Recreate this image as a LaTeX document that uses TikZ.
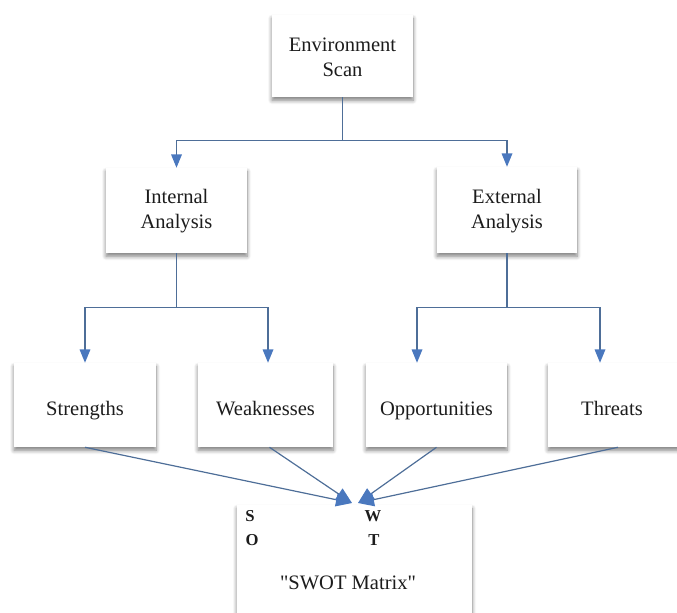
\documentclass[tikz,border=0pt]{standalone}
\usepackage{fontspec}
\IfFontExistsTF{LiberationSerif-Regular.ttf}{%
  \setmainfont{LiberationSerif}[Extension=.ttf, UprightFont=*-Regular,
    BoldFont=*-Bold, ItalicFont=*-Italic, BoldItalicFont=*-BoldItalic]%
}{%
  \setmainfont{Liberation Serif}%
}
\usetikzlibrary{arrows.meta,shadows.blur,calc}
\definecolor{linkblue}{HTML}{4E6E98}
\definecolor{tipblue}{HTML}{4A78BE}
\definecolor{ink}{HTML}{1C1C1C}
\tikzset{
  card/.style={draw=none, fill=white, inner sep=0pt,
    blur shadow={shadow xshift=0pt, shadow yshift=-2.5pt,
      shadow blur radius=3pt, shadow blur steps=6, shadow opacity=50}},
  lbl/.style={text=ink, font=\rmfamily\fontsize{15.4}{18.8}\selectfont, align=center, inner sep=0pt},
  letter/.style={text=ink, font=\rmfamily\fontsize{12.5}{15}\selectfont\bfseries, inner sep=0pt},
  link/.style={draw=linkblue, line width=0.9pt},
  flow/.style={link, -{Triangle[length=10pt,width=8pt,fill=tipblue,color=tipblue]}},
  bigflow/.style={link, -{Triangle[length=12pt,width=10pt,fill=tipblue,color=tipblue]}},
}
\begin{document}
\begin{tikzpicture}[x=0.75pt, y=-0.75pt]
  \useasboundingbox (0,0) rectangle (677,612);

  % boxes
  \node[card, minimum width=105.75pt, minimum height=61.5pt] (env) at (342.5,56) {};
  \node[card, minimum width=105.75pt, minimum height=63.75pt] (int) at (176.5,210.5) {};
  \node[card, minimum width=105pt, minimum height=64.5pt] (ext) at (507,210) {};
  \node[card, minimum width=106.5pt, minimum height=63pt] (str) at (85,405) {};
  \node[card, minimum width=101.25pt, minimum height=63pt] (weak) at (265.5,405) {};
  \node[card, minimum width=105.75pt, minimum height=63pt] (opp) at (436.5,405) {};
  \node[card, minimum width=105pt, minimum height=63pt] (thr) at (618,405) {};
  \node[card, minimum width=176.25pt, minimum height=93.75pt] (swot) at (354.5,567.5) {};

  % box texts
  \node[lbl] (tenv) at (342.5,57.5) {Environment\\Scan};
  \node[lbl] (tint) at (176.5,211) {Internal\\Analysis};
  \node[lbl] (text) at (507,211) {External\\Analysis};
  \node[lbl, anchor=base] (tstr) at (85,415) {Strengths};
  \node[lbl, anchor=base] (tweak) at (265.5,415) {Weaknesses};
  \node[lbl, anchor=base] (topp) at (436.5,415) {Opportunities};
  \node[lbl, anchor=base] (tthr) at (612,415) {Threats};

  \node[letter] (mS) at (250,516) {S};
  \node[letter] (mO) at (252,540) {O};
  \node[letter] (mW) at (373,516) {W};
  \node[letter] (mT) at (374,540) {T};
  \node[lbl] (tswot) at (348,583) {\textquotedbl SWOT Matrix\textquotedbl};

  % tree connectors
  \coordinate (j0) at ($(env.south)+(0,43)$);
  \draw[link] (env.south) -- (j0);
  \draw[flow] (j0) -| (int.north);
  \draw[flow] (j0) -| (ext.north);

  \coordinate (j1) at ($(int.south)+(0,54)$);
  \draw[link] (int.south) -- (j1);
  \draw[flow] (j1) -| (str.north);
  \draw[flow] (j1) -| ($(weak.north)+(2.5,0)$);

  \coordinate (j2) at ($(ext.south)+(0,54)$);
  \draw[link] (ext.south) -- (j2);
  \draw[flow] (j2) -| ($(opp.north)+(-19.5,0)$);
  \draw[flow] (j2) -| ($(thr.north)+(-18,0)$);

  % converging connectors into the matrix
  \coordinate (tipL) at (352,503);
  \coordinate (tipR) at (358,503);
  \draw[bigflow] (str.south) -- (tipL);
  \draw[bigflow] ($(weak.south)+(4,0)$) -- (tipL);
  \draw[bigflow] (opp.south) -- (tipR);
  \draw[bigflow] (thr.south) -- (tipR);
\end{tikzpicture}
\end{document}
